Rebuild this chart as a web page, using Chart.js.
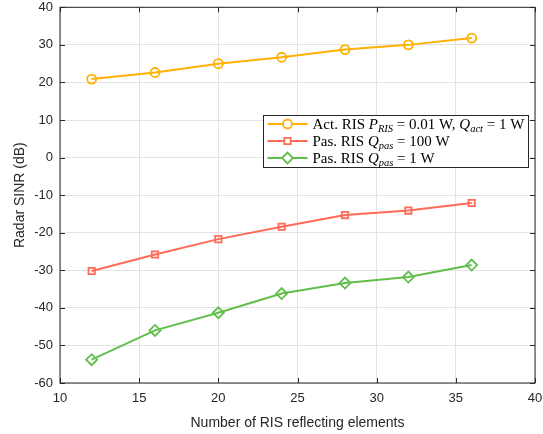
<!DOCTYPE html>
<html>
<head>
<meta charset="utf-8">
<script src="https://cdn.jsdelivr.net/npm/chart.js@4/dist/chart.umd.min.js"></script>
<style>
  html, body { margin: 0; padding: 0; background: #fff; }
  #wrap { width: 543px; height: 434px; position: relative; }
</style>
</head>
<body>
<div id="wrap"><canvas id="sinrChart" width="543" height="434"></canvas></div>
<script>
// --- data ---
const elements = [12, 16, 20, 24, 28, 32, 36];
const actRis = [20.9, 22.65, 25.0, 26.7, 28.75, 30.0, 31.8];
const pasRis100 = [-30.2, -25.8, -21.7, -18.4, -15.3, -14.1, -12.1];
const pasRis1 = [-53.8, -46.0, -41.3, -36.2, -33.4, -31.8, -28.6];
const xTicks = [10, 15, 20, 25, 30, 35, 40];
const yTicks = [-60, -50, -40, -30, -20, -10, 0, 10, 20, 30, 40];

const colors = { act: '#FFB000', pas100: '#FF6B57', pas1: '#62BE4C' };

// legend labels as segments: [text, style]  style: n = normal, i = italic, s = italic subscript
const legendRows = [
  { color: colors.act, marker: 'circle', parts: [['Act. RIS ', 'n'], ['P', 'i'], ['RIS', 's'], [' = 0.01 W, ', 'n'], ['Q', 'i'], ['act', 's'], [' = 1 W', 'n']] },
  { color: colors.pas100, marker: 'rect', parts: [['Pas. RIS ', 'n'], ['Q', 'i'], ['pas', 's'], [' = 100 W', 'n']] },
  { color: colors.pas1, marker: 'rectRot', parts: [['Pas. RIS ', 'n'], ['Q', 'i'], ['pas', 's'], [' = 1 W', 'n']] }
];

function toPoints(ys) { return elements.map((x, i) => ({ x: x, y: ys[i] })); }

function series(label, ys, color, style, radius) {
  return {
    label: label, data: toPoints(ys),
    borderColor: color, backgroundColor: 'rgba(0,0,0,0)',
    borderWidth: 2, pointStyle: style, pointRadius: radius,
    pointBorderWidth: 1.8, pointBackgroundColor: 'rgba(0,0,0,0)', pointBorderColor: color,
    tension: 0
  };
}

// box around the plot plus MATLAB-style inner ticks
const boxPlugin = {
  id: 'box',
  afterDatasetsDraw(chart) {
    const { ctx, chartArea: a, scales } = chart;
    ctx.save();
    ctx.strokeStyle = '#262626';
    ctx.lineWidth = 1;
    ctx.strokeRect(a.left, a.top, a.right - a.left, a.bottom - a.top);
    const t = 5;
    ctx.beginPath();
    xTicks.forEach(v => {
      const px = Math.round(scales.x.getPixelForValue(v)) + 0.5;
      ctx.moveTo(px, a.bottom); ctx.lineTo(px, a.bottom - t);
      ctx.moveTo(px, a.top); ctx.lineTo(px, a.top + t);
    });
    yTicks.forEach(v => {
      const py = Math.round(scales.y.getPixelForValue(v)) + 0.5;
      ctx.moveTo(a.left, py); ctx.lineTo(a.left + t, py);
      ctx.moveTo(a.right, py); ctx.lineTo(a.right - t, py);
    });
    ctx.stroke();
    ctx.restore();
  }
};

// legend with subscripts, drawn inside the axes
const mathLegend = {
  id: 'mathLegend',
  afterDraw(chart) {
    const ctx = chart.ctx;
    const box = { x: 263.5, y: 115.5, w: 265, h: 52 };
    ctx.save();
    ctx.fillStyle = '#fff';
    ctx.fillRect(box.x, box.y, box.w, box.h);
    ctx.strokeStyle = '#262626';
    ctx.lineWidth = 1;
    ctx.strokeRect(box.x, box.y, box.w, box.h);
    const serif = '"Liberation Serif", "DejaVu Serif", serif';
    legendRows.forEach((row, i) => {
      const cy = box.y + 8.5 + i * 17;
      ctx.strokeStyle = row.color;
      ctx.lineWidth = 2;
      ctx.beginPath();
      ctx.moveTo(box.x + 4, cy); ctx.lineTo(box.x + 44, cy);
      ctx.stroke();
      ctx.lineWidth = 1.8;
      ctx.fillStyle = '#fff';
      Chart.helpers.drawPoint(ctx, { pointStyle: row.marker, radius: row.marker === 'rectRot' ? 5.5 : 4.5, rotation: 0, borderWidth: 1.8 }, box.x + 24, cy);
      let x = box.x + 49;
      ctx.fillStyle = '#000';
      ctx.textBaseline = 'alphabetic';
      row.parts.forEach(([txt, st]) => {
        let dy = 5;
        if (st === 'n') ctx.font = '15px ' + serif;
        else if (st === 'i') ctx.font = 'italic 15px ' + serif;
        else { ctx.font = 'italic 10.5px ' + serif; dy = 8; }
        ctx.fillText(txt, x, cy + dy);
        x += ctx.measureText(txt).width;
      });
    });
    ctx.restore();
  }
};

new Chart(document.getElementById('sinrChart'), {
  type: 'line',
  data: {
    datasets: [
      series('Act. RIS P_RIS = 0.01 W, Q_act = 1 W', actRis, colors.act, 'circle', 4.5),
      series('Pas. RIS Q_pas = 100 W', pasRis100, colors.pas100, 'rect', 4.5),
      series('Pas. RIS Q_pas = 1 W', pasRis1, colors.pas1, 'rectRot', 5.5)
    ]
  },
  options: {
    responsive: false, animation: false,
    layout: { padding: { top: 7, right: 8, left: 0, bottom: 0 } },
    plugins: { legend: { display: false }, tooltip: { enabled: false } },
    scales: {
      x: {
        type: 'linear', min: 10, max: 40,
        afterBuildTicks: s => { s.ticks = xTicks.map(v => ({ value: v })); },
        afterFit: s => { s.height = 51; s.paddingLeft = 0; s.paddingRight = 0; },
        grid: { color: '#e3e3e3', drawTicks: false },
        border: { display: false },
        ticks: { padding: 8, color: '#262626', font: { family: 'Liberation Sans, Arial, sans-serif', size: 13 } },
        title: { display: true, text: 'Number of RIS reflecting elements', color: '#262626', padding: { top: 0, bottom: 2 }, font: { family: 'Liberation Sans, Arial, sans-serif', size: 14 } }
      },
      y: {
        min: -60, max: 40,
        afterBuildTicks: s => { s.ticks = yTicks.map(v => ({ value: v })); },
        afterFit: s => { s.width = 60; s.paddingTop = 0; s.paddingBottom = 0; },
        grid: { color: '#e3e3e3', drawTicks: false },
        border: { display: false },
        ticks: { padding: 7, color: '#262626', font: { family: 'Liberation Sans, Arial, sans-serif', size: 13 } },
        title: { display: true, text: 'Radar SINR (dB)', color: '#262626', padding: { top: 12, bottom: 0 }, font: { family: 'Liberation Sans, Arial, sans-serif', size: 14 } }
      }
    }
  },
  plugins: [boxPlugin, mathLegend]
});
</script>
</body>
</html>
